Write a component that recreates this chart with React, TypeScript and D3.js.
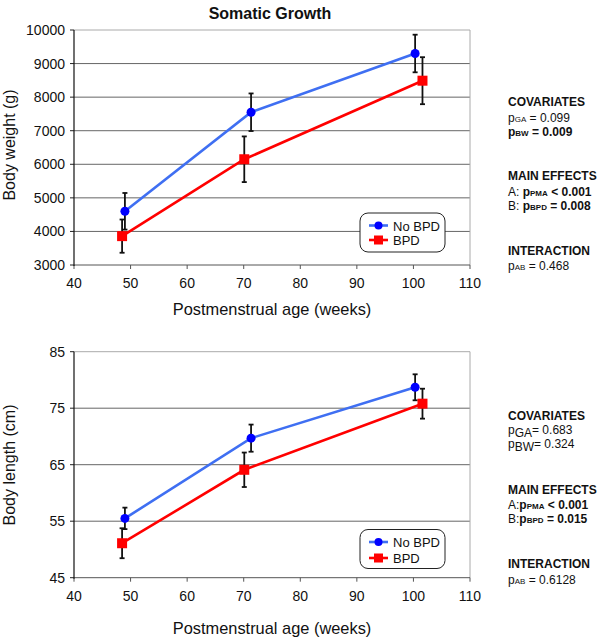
import React from "react";
import * as d3 from "d3";

const xTicks = [40, 50, 60, 70, 80, 90, 100, 110];
const weightTicks = [3000, 4000, 5000, 6000, 7000, 8000, 9000, 10000];
const lengthTicks = [45, 55, 65, 75, 85];

const noBpdAgeW = [49.0, 71.3, 100.3];
const noBpdWeight = [4600, 7550, 9300];
const noBpdWeightErr = [545, 560, 560];
const bpdAgeW = [48.5, 70.1, 101.6];
const bpdWeight = [3860, 6150, 8490];
const bpdWeightErr = [495, 680, 700];

const noBpdAgeL = [49.0, 71.3, 100.3];
const noBpdLength = [55.5, 69.7, 78.7];
const noBpdLengthErr = [1.9, 2.4, 2.3];
const bpdAgeL = [48.5, 70.1, 101.6];
const bpdLength = [51.1, 64.1, 75.8];
const bpdLengthErr = [2.65, 3.05, 2.65];

const FONT = "Liberation Sans, Arial, Helvetica, sans-serif";
const BLUE_LINE = "#3f6ff2";
const BLUE = "#0000ff";
const RED = "#ff0000";

type PanelProps = {
  top: number;
  bottom: number;
  yDomain: [number, number];
  yTicks: number[];
  yLabel: string;
  labelY: number;
  xLabelY: number;
  legendTop: number;
  legendGap: number;
  series: { x: number[]; y: number[]; e: number[]; kind: "circle" | "square" }[];
};

function Panel(p: PanelProps) {
  const left = 74, right = 470;
  const x = d3.scaleLinear().domain([40, 110]).range([left, right]);
  const y = d3.scaleLinear().domain(p.yDomain).range([p.bottom, p.top]);
  const line = d3.line<[number, number]>().x(d => x(d[0])).y(d => y(d[1]));
  return (
    <g>
      {p.yTicks.map((t, i) => (
        <g key={"g" + t}>
          {i > 0 && (
            <line x1={left} x2={right} y1={y(t)} y2={y(t)}
              stroke={i === p.yTicks.length - 1 ? "#aaaaaa" : "#666666"} strokeWidth={1} />
          )}
          <line x1={left - 4} x2={left} y1={y(t)} y2={y(t)} stroke="#222" strokeWidth={1} />
          <text x={left - 9} y={y(t) + 5} textAnchor="end" fontSize={14} fontFamily={FONT} fill="#111">{t}</text>
        </g>
      ))}
      <line x1={right} x2={right} y1={p.top} y2={p.bottom} stroke="#aaaaaa" strokeWidth={1} />
      <line x1={left} x2={right} y1={p.bottom} y2={p.bottom} stroke="#555" strokeWidth={1} />
      {xTicks.map(t => (
        <g key={"x" + t}>
          <line x1={x(t)} x2={x(t)} y1={p.bottom} y2={p.bottom + 4} stroke="#555" strokeWidth={1} />
          <text x={x(t)} y={p.bottom + 23} textAnchor="middle" fontSize={14} fontFamily={FONT} fill="#111">{t}</text>
        </g>
      ))}
      <line x1={left} x2={left} y1={p.top} y2={p.bottom + 1} stroke="#111" strokeWidth={1.2} />
      <text transform={`translate(15,${p.labelY}) rotate(-90)`} textAnchor="middle" fontSize={16} fontFamily={FONT} fill="#111">{p.yLabel}</text>
      <text x={272} y={p.xLabelY} textAnchor="middle" fontSize={16.4} fontFamily={FONT} fill="#111">Postmenstrual age (weeks)</text>
      {p.series.map((s, si) => (
        <path key={"l" + si} d={line(s.x.map((v, i) => [v, s.y[i]]) as [number, number][]) || ""}
          fill="none" stroke={s.kind === "circle" ? BLUE_LINE : RED} strokeWidth={2.6} />
      ))}
      {p.series.map((s, si) => s.x.map((v, i) => (
        <g key={"e" + si + i} stroke="#111" strokeWidth={1.8}>
          <line x1={x(v)} x2={x(v)} y1={y(s.y[i] + s.e[i])} y2={y(s.y[i] - s.e[i])} />
          <line x1={x(v) - 2.5} x2={x(v) + 2.5} y1={y(s.y[i] + s.e[i])} y2={y(s.y[i] + s.e[i])} />
          <line x1={x(v) - 2.5} x2={x(v) + 2.5} y1={y(s.y[i] - s.e[i])} y2={y(s.y[i] - s.e[i])} />
        </g>
      )))}
      {p.series.map((s, si) => s.x.map((v, i) => s.kind === "circle" ? (
        <circle key={"m" + si + i} cx={x(v)} cy={y(s.y[i])} r={4.5} fill={BLUE} />
      ) : (
        <rect key={"m" + si + i} x={x(v) - 5} y={y(s.y[i]) - 5} width={10} height={10} fill={RED} />
      )))}
      <g>
        <rect x={360} y={p.legendTop} width={85} height={39} rx={8} ry={8} fill="#fff" stroke="#222" strokeWidth={1} />
        <line x1={369} x2={388} y1={p.legendTop + 12.5} y2={p.legendTop + 12.5} stroke={BLUE_LINE} strokeWidth={2.6} />
        <circle cx={378.5} cy={p.legendTop + 12.5} r={4} fill={BLUE} />
        <text x={393} y={p.legendTop + 17.5} fontSize={13} fontFamily={FONT} fill="#111">No BPD</text>
        <line x1={369} x2={388} y1={p.legendTop + 12.5 + p.legendGap} y2={p.legendTop + 12.5 + p.legendGap} stroke={RED} strokeWidth={2.6} />
        <rect x={374} y={p.legendTop + 8 + p.legendGap} width={9} height={9} fill={RED} />
        <text x={393} y={p.legendTop + 17.5 + p.legendGap} fontSize={13} fontFamily={FONT} fill="#111">BPD</text>
      </g>
    </g>
  );
}

function Sub({ t, size = 8, dy = 0 }: { t: string; size?: number; dy?: number }) {
  return <tspan fontSize={size} dy={dy}>{t}</tspan>;
}

export default function App() {
  const ax = 508;
  const fs = 12;
  const st = { fontFamily: FONT, fontSize: fs, fill: "#111" } as const;
  return (
    <svg width={600} height={638} style={{ display: "block", position: "absolute", left: 0, top: 0 }}>
      <rect width={600} height={638} fill="#fff" />
      <text x={270} y={19} textAnchor="middle" fontSize={16} fontWeight="bold" fontFamily={FONT} fill="#111">Somatic Growth</text>
      <Panel top={30} bottom={265} yDomain={[3000, 10000]} yTicks={weightTicks} yLabel="Body weight (g)" labelY={145}
        xLabelY={315} legendTop={213} legendGap={14.5}
        series={[
          { x: noBpdAgeW, y: noBpdWeight, e: noBpdWeightErr, kind: "circle" },
          { x: bpdAgeW, y: bpdWeight, e: bpdWeightErr, kind: "square" },
        ]} />
      <Panel top={351.7} bottom={577.7} yDomain={[45, 85]} yTicks={lengthTicks} yLabel="Body length (cm)" labelY={465}
        xLabelY={634} legendTop={529.5} legendGap={16}
        series={[
          { x: noBpdAgeL, y: noBpdLength, e: noBpdLengthErr, kind: "circle" },
          { x: bpdAgeL, y: bpdLength, e: bpdLengthErr, kind: "square" },
        ]} />
      {/* top annotations */}
      <g {...st}>
        <text x={ax} y={106} fontWeight="bold">COVARIATES</text>
        <text x={ax} y={121.5}>p<Sub t="GA" />{" = 0.099"}</text>
        <text x={ax} y={136} fontWeight="bold">p<Sub t="BW" />{" = 0.009"}</text>
        <text x={ax} y={180} fontWeight="bold">MAIN EFFECTS</text>
        <text x={ax} y={195.5}>{"A: "}<tspan fontWeight="bold">p<Sub t="PMA" />{" < 0.001"}</tspan></text>
        <text x={ax} y={209.5}>{"B: "}<tspan fontWeight="bold">p<Sub t="BPD" />{" = 0.008"}</tspan></text>
        <text x={ax} y={254.5} fontWeight="bold">INTERACTION</text>
        <text x={ax} y={269.5}>p<Sub t="AB" />{"  = 0.468"}</text>
      </g>
      {/* bottom annotations */}
      <g {...st}>
        <text x={ax} y={419.5} fontWeight="bold">COVARIATES</text>
        <text x={ax} y={434}>p<tspan fontSize={12} dy={3}>GA</tspan><tspan dy={-3}>= 0.683</tspan></text>
        <text x={ax} y={448}>p<tspan fontSize={12} dy={3}>BW</tspan><tspan dy={-3}>= 0.324</tspan></text>
        <text x={ax} y={493.5} fontWeight="bold">MAIN EFFECTS</text>
        <text x={ax} y={508.5}>{"A:"}<tspan fontWeight="bold">p<Sub t="PMA" />{" < 0.001"}</tspan></text>
        <text x={ax} y={523}>{"B:"}<tspan fontWeight="bold">p<Sub t="BPD" />{" = 0.015"}</tspan></text>
        <text x={ax} y={567.5} fontWeight="bold">INTERACTION</text>
        <text x={ax} y={584}>p<Sub t="AB" />{" = 0.6128"}</text>
      </g>
    </svg>
  );
}
